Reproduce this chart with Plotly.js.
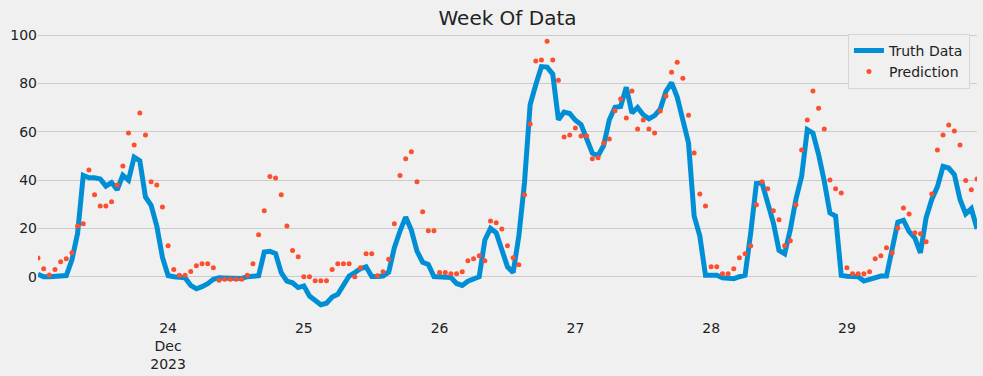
<!DOCTYPE html>
<html>
<head>
<meta charset="utf-8">
<script src="https://cdn.plot.ly/plotly-3.0.1.min.js"></script>
<style>
html,body{margin:0;padding:0;background:#f0f0f0;}
#chart{width:983px;height:376px;}
</style>
</head>
<body>
<div id="chart"></div>
<script>
// Hourly series, first hour 2023-12-23 01:00
const startDay = 23;
const startHour = 1;

const truthData = [
1,0,0,0,0,0.5,7,18,42,41,41,40.5,37.5,39,36,42,40,49.5,48,33,29.6,21,8,0.5,
0,0,-0.4,-3.6,-5,-4.1,-2.9,-1.1,-0.4,-0.5,-0.5,-0.4,-0.7,0,0.1,0.4,10.2,10.5,9.6,1.7,-1.8,-2.5,-4.5,-3.8,
-8,-9.6,-11.6,-11,-8.4,-7.3,-3.6,0.3,1.7,3.3,4.1,0.1,0.1,0.3,1.9,12,18.9,24.7,19.3,10.6,6,5.1,0.1,0,
0,-0.3,-2.8,-3.6,-1.9,-1.1,0,15.2,20,18.2,11.3,4.1,1.7,16.8,38.8,71.2,79.5,87,86.8,83.9,65,68.2,67.6,64.8,
63,56.7,51.2,50.1,54.3,65,70.2,70.5,78.5,67.8,70.1,67.1,65.4,66.7,69.4,76.7,80.4,74.4,65.3,55.4,25.1,16.8,0.6,0.5,
0.6,-0.4,-0.7,-0.8,0,0.6,18.2,38.6,38.8,30.6,22.3,10.9,9.5,19.6,32.2,41.6,60.9,59.5,50.6,39.5,26.4,25.1,0.6,0.2,
0.3,0,-1.8,-1.1,-0.3,0.3,0.3,12.7,22.6,23.4,18.7,16.1,9.9,24.4,32,37.2,45.7,45,42.3,32,26,28.2,19.8
];

const predictionData = [
7.8,3.3,0.7,3,6.2,7.4,9.9,21,21.9,44.2,33.9,29.3,29.3,31,38,45.9,59.5,54.5,67.8,58.7,39.3,38,28.9,12.8,
3,0.6,0.6,2.2,4.5,5.4,5.4,3.7,-1.5,-1.1,-1.1,-1.1,-1.1,0.6,5.4,17.4,27.3,41.5,40.9,33.9,21,10.9,8.3,0,
0,-1.7,-1.7,-1.7,3,5.4,5.4,5.4,0,3.7,9.5,9.5,0.4,2.1,7.2,21.9,41.9,48.8,51.7,39.3,26.9,19,19,1.7,
1.7,1.2,1.2,2.1,6.6,7.4,8.7,6.6,23.1,22.3,19.8,12.8,7.9,5,33.9,63.2,89.3,89.7,97.5,89.7,81.4,57.9,58.7,61.6,
58.3,58.3,48.8,49.3,55.4,57,68.7,73.6,65.7,76.9,61.2,64.9,61.2,59.5,68.6,74.8,84.7,88.8,82.2,66.9,51.2,34.3,29.3,4.1,
4.1,1.2,1.2,3.3,7.9,9.5,12.8,29.8,39.3,36.4,27.3,23.6,12.8,14.9,29.8,52.5,64.9,76.9,69.8,61.2,40.1,36.4,34.7,3.7,
1.2,1.2,1.2,2.1,7.4,8.7,12,9.9,20.2,28.5,26,18.2,17.8,14.5,34.3,52.5,58.7,62.8,60.3,54.5,39.8,36,40.5
];

const tickDates = ['2023-12-24','2023-12-25','2023-12-26','2023-12-27','2023-12-28','2023-12-29'];
const tickLabels = ['24<br>Dec<br>2023','25','26','27','28','29'];

function pad(n){return (n<10?'0':'')+n;}
const timeIndex = truthData.map((_, i) => {
  const h = startHour + i;
  const d = startDay + Math.floor(h/24);
  return '2023-12-' + pad(d) + ' ' + pad(h%24) + ':00';
});

const font = {family: 'DejaVu Sans, sans-serif', size: 14, color: '#222222'};

const traces = [
  {
    x: timeIndex, y: truthData, type: 'scatter', mode: 'lines', name: 'Truth Data',
    line: {color: '#008fd5', width: 5}
  },
  {
    x: timeIndex, y: predictionData, type: 'scatter', mode: 'markers', name: 'Prediction',
    marker: {color: '#fc4f30', size: 5}
  }
];

const layout = {
  width: 983, height: 376,
  paper_bgcolor: '#f0f0f0', plot_bgcolor: '#f0f0f0',
  margin: {l: 38, r: 6, t: 28, b: 58},
  font: font,
  title: {text: 'Week Of Data', x: 0.5, xref: 'paper', xanchor: 'center',
          y: 0.953, yref: 'container', yanchor: 'middle',
          font: {family: 'DejaVu Sans, sans-serif', size: 20, color: '#222222'}},
  xaxis: {
    type: 'date', range: [timeIndex[0], timeIndex[timeIndex.length-1]],
    tickvals: tickDates, ticktext: tickLabels, ticks: '',
    showgrid: false, zeroline: false, showline: false,
    tickfont: font
  },
  yaxis: {
    range: [-17.1, 103], tickvals: [0,20,40,60,80,100], ticks: '',
    showgrid: true, gridcolor: '#cbcbcb', gridwidth: 1,
    zeroline: false, showline: false, tickfont: font
  },
  legend: {
    x: 0.9925, xanchor: 'right', y: 0.98, yanchor: 'top',
    bgcolor: '#f0f0f0', bordercolor: '#d6d6d6', borderwidth: 1,
    font: font
  },
  showlegend: true
};

Plotly.newPlot('chart', traces, layout, {displayModeBar: false, staticPlot: true});
</script>
</body>
</html>
